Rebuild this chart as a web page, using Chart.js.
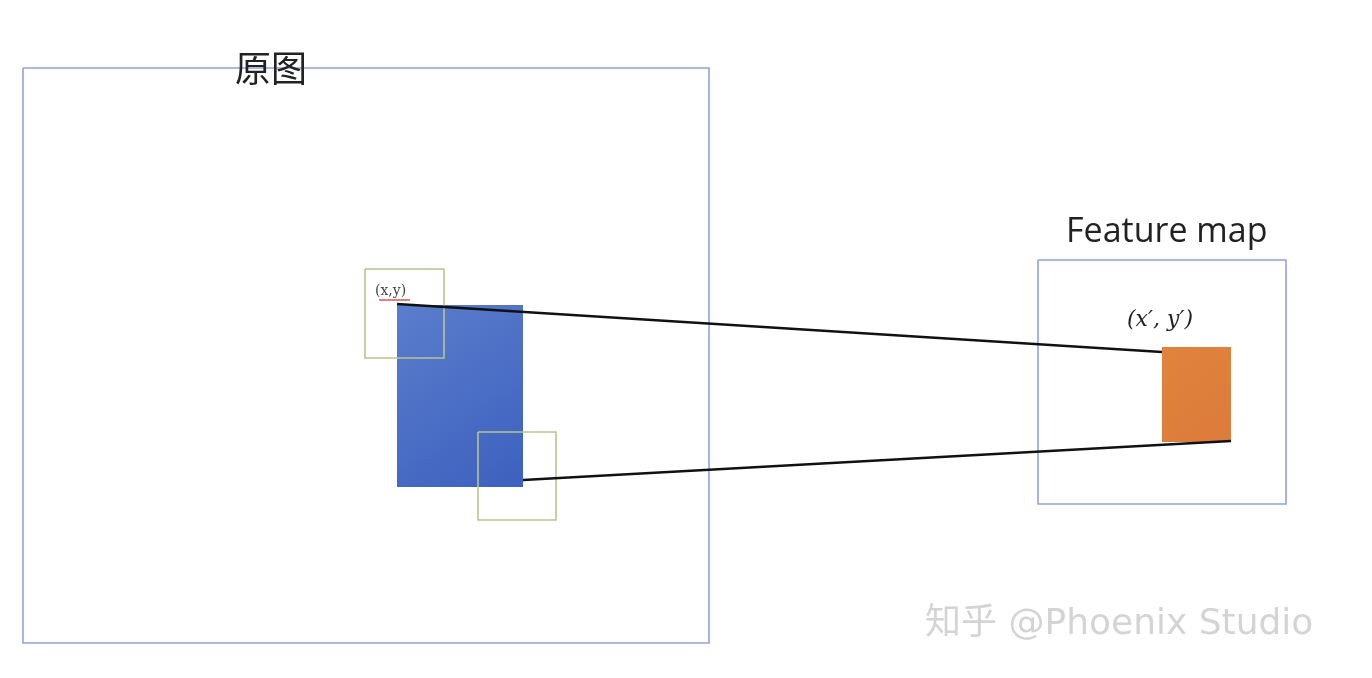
<!DOCTYPE html>
<html><head><meta charset="utf-8">
<script src="https://cdn.jsdelivr.net/npm/chart.js@4"></script>
<style>html,body{margin:0;padding:0;background:#fff}#c{display:block}</style>
</head><body>
<canvas id="c" width="1372" height="678"></canvas>
<script>
// Diagram elements in image coordinates [x1, y1, x2, y2]
const outlineBoxes = [
  {name:'原图', rect:[23,68,709,643], color:'#93a3d9'},
  {name:'Feature map', rect:[1038,260,1286,504], color:'#93a3d9'},
  {name:'window1', rect:[365,269,444,358], color:'#b7c58e'},
  {name:'window2', rect:[478,432,556,520], color:'#b7c58e'}
];
const filledBoxes = [
  {name:'region', rect:[397,305,523,487], top:'#5b7dcd', bottom:'#3c61be'},
  {name:'feature', rect:[1162,347,1231,442], top:'#e2823f', bottom:'#dd7c3a'}
];
const projLines = [
  [[397,304],[1162,352]],
  [[523,480],[1231,441]]
];
const labels = [
  {text:'原图', x:235, y:68, size:36, font:'"Noto Sans CJK SC"', color:'#222'},
  {text:'Feature map', x:1066, y:232, size:34, font:'"Open Sans"', color:'#222'},
  {text:"(x′, y′)", x:1127, y:320, size:22, font:'"DejaVu Serif"', color:'#222', italic:true},
  {text:'(x,y)', x:375, y:291, size:14, font:'"DejaVu Serif"', color:'#444'},
  {text:'知乎 @Phoenix Studio', x:925, y:625, size:36, font:'"DejaVu Sans"', color:'#d4d4d4'}
];

const datasets = [];
outlineBoxes.forEach(b=>{
  const [x1,y1,x2,y2]=b.rect;
  datasets.push({label:b.name,data:[{x:x1,y:y1},{x:x2,y:y1},{x:x2,y:y2},{x:x1,y:y2},{x:x1,y:y1}],
    borderColor:b.color,borderWidth:1.6,pointRadius:0,showLine:true,fill:false,tension:0});
});
projLines.forEach((l,i)=>{
  datasets.push({label:'line'+i,data:l.map(p=>({x:p[0],y:p[1]})),borderColor:'#111',borderWidth:2.6,pointRadius:0,showLine:true,order:-1});
});

const drawPlugin = {
  id:'diagram',
  beforeDatasetsDraw(chart){
    const ctx=chart.ctx, xs=chart.scales.x, ys=chart.scales.y;
    filledBoxes.forEach(b=>{
      const x1=xs.getPixelForValue(b.rect[0]), y1=ys.getPixelForValue(b.rect[1]);
      const x2=xs.getPixelForValue(b.rect[2]), y2=ys.getPixelForValue(b.rect[3]);
      const g=ctx.createLinearGradient(x1,y1,x2,y2);
      g.addColorStop(0,b.top); g.addColorStop(1,b.bottom);
      ctx.fillStyle=g; ctx.fillRect(x1,y1,x2-x1,y2-y1);
    });
  },
  afterDatasetsDraw(chart){
    const ctx=chart.ctx, xs=chart.scales.x, ys=chart.scales.y;
    ctx.save();
    ctx.textBaseline='middle';
    labels.forEach(t=>{
      ctx.font=(t.italic?'italic ':'')+t.size+'px '+t.font+', "Noto Sans CJK SC"';
      ctx.fillStyle=t.color;
      ctx.fillText(t.text,xs.getPixelForValue(t.x),ys.getPixelForValue(t.y));
    });
    ctx.strokeStyle='#d9534f'; ctx.lineWidth=1.5;
    ctx.beginPath(); ctx.moveTo(xs.getPixelForValue(379),ys.getPixelForValue(300));
    ctx.lineTo(xs.getPixelForValue(410),ys.getPixelForValue(300)); ctx.stroke();
    ctx.restore();
  }
};

new Chart(document.getElementById('c'),{
  type:'scatter',
  data:{datasets},
  options:{
    responsive:false,animation:false,
    layout:{padding:0},
    plugins:{legend:{display:false},tooltip:{enabled:false}},
    scales:{
      x:{type:'linear',min:0,max:1372,display:false},
      y:{type:'linear',min:0,max:678,reverse:true,display:false}
    }
  },
  plugins:[drawPlugin]
});
</script>
</body></html>
